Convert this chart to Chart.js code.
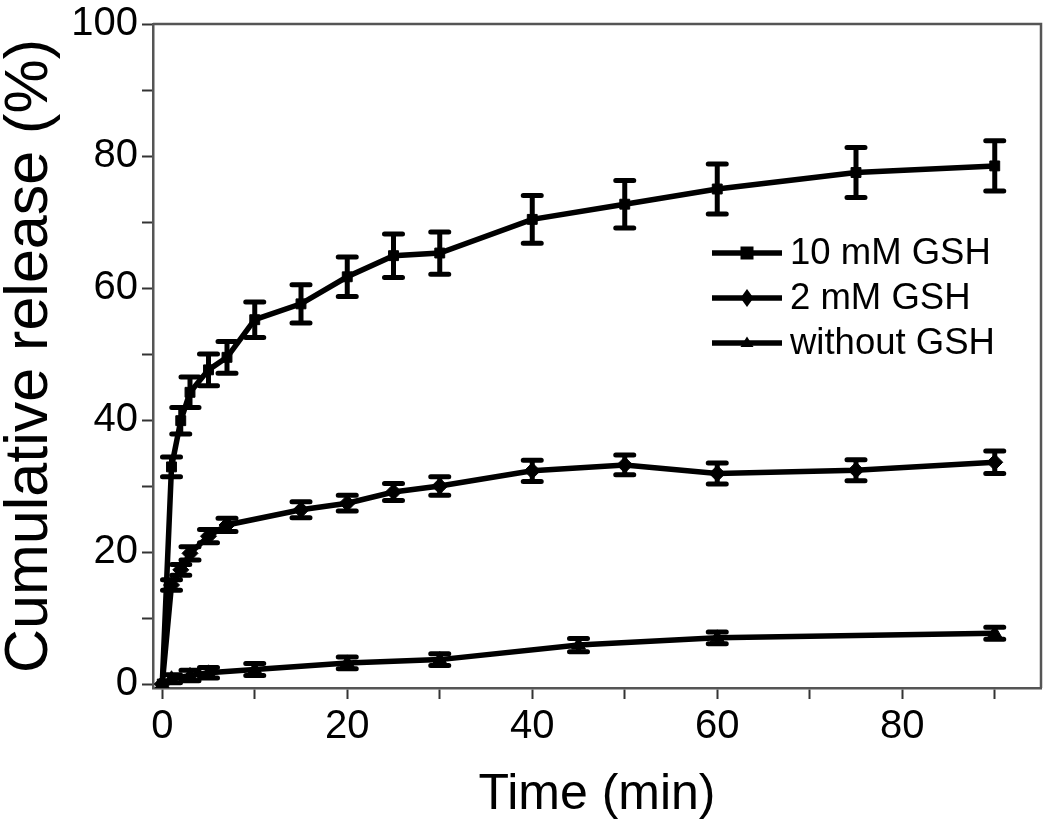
<!DOCTYPE html>
<html>
<head>
<meta charset="utf-8">
<script src="https://cdn.jsdelivr.net/npm/chart.js"></script>
<style>
  html, body { margin: 0; padding: 0; background: #ffffff; }
  #wrap { width: 1050px; height: 833px; }
</style>
</head>
<body>
<div id="wrap"><canvas id="c" width="1050" height="833"></canvas></div>
<script>
// ---- data ----
const seriesNames = ['10 mM GSH', '2 mM GSH', 'without GSH'];

const time10 = [0, 1, 2, 3, 5, 7, 10, 15, 20, 25, 30, 40, 50, 60, 75, 90];
const release10 = [0, 32.9, 39.9, 44.2, 47.6, 49.5, 55.2, 57.6, 61.7, 64.9, 65.3, 70.4, 72.7, 75.0, 77.5, 78.5];
const error10 = [0, 1.5, 2.0, 2.3, 2.4, 2.4, 2.7, 2.9, 3.0, 3.3, 3.2, 3.6, 3.6, 3.8, 3.8, 3.8];

const time2 = [0, 1, 2, 3, 5, 7, 15, 20, 25, 30, 40, 50, 60, 75, 90];
const release2 = [0, 15.0, 17.3, 19.8, 22.4, 24.1, 26.4, 27.4, 29.1, 30.0, 32.3, 33.2, 31.9, 32.4, 33.6];
const error2 = [0, 0.8, 0.8, 1.0, 1.0, 1.0, 1.2, 1.2, 1.3, 1.4, 1.6, 1.5, 1.6, 1.6, 1.7];

const time0 = [0, 1, 3, 5, 10, 20, 30, 45, 60, 90];
const release0 = [0, 0.8, 1.3, 1.7, 2.2, 3.2, 3.7, 5.9, 7.0, 7.7];
const error0 = [0, 0.6, 0.8, 0.8, 0.9, 0.9, 0.9, 1.0, 0.9, 0.9];

const xTickValues = [0, 10, 20, 30, 40, 50, 60, 70, 80, 90];
const yTickValues = [0, 10, 20, 30, 40, 50, 60, 70, 80, 90, 100];

// ---- build datasets ----
function pts(xs, ys) { return xs.map((x, i) => ({ x: x, y: ys[i] })); }
const markerStyles = ['rect', 'rectRot', 'triangle'];
const markerRadius = [7, 8, 8];
const errors = [error10, error2, error0];

const datasets = [
  { label: seriesNames[0], data: pts(time10, release10) },
  { label: seriesNames[1], data: pts(time2, release2) },
  { label: seriesNames[2], data: pts(time0, release0) }
].map((d, i) => Object.assign(d, {
  showLine: true,
  borderColor: '#000',
  backgroundColor: '#000',
  borderWidth: 5.5,
  pointStyle: markerStyles[i],
  pointRadius: markerRadius[i],
  pointHoverRadius: markerRadius[i],
  pointBackgroundColor: '#000',
  pointBorderColor: '#000',
  pointBorderWidth: 1,
  tension: 0,
  errors: errors[i]
}));

const FONT = '"Liberation Sans", Arial, sans-serif';

// error bars drawn through the chart's scales
const errorBarPlugin = {
  id: 'errorBars',
  beforeDatasetsDraw(chart) {
    const ctx = chart.ctx;
    const xs = chart.scales.x, ys = chart.scales.y;
    ctx.save();
    ctx.strokeStyle = '#000';
    ctx.lineWidth = 5;
    ctx.lineCap = 'round';
    chart.data.datasets.forEach(ds => {
      ds.data.forEach((p, i) => {
        const e = ds.errors[i];
        if (!e) return;
        const px = xs.getPixelForValue(p.x);
        const top = ys.getPixelForValue(p.y + e);
        const bot = ys.getPixelForValue(p.y - e);
        const cap = 9;
        ctx.beginPath();
        ctx.moveTo(px, top); ctx.lineTo(px, bot);
        ctx.moveTo(px - cap, top); ctx.lineTo(px + cap, top);
        ctx.moveTo(px - cap, bot); ctx.lineTo(px + cap, bot);
        ctx.stroke();
      });
    });
    ctx.restore();
  }
};

// frame (top and right sides of the box)
const framePlugin = {
  id: 'frame',
  afterDraw(chart) {
    const { ctx, chartArea: a } = chart;
    ctx.save();
    ctx.strokeStyle = '#555';
    ctx.lineWidth = 2.5;
    ctx.beginPath();
    ctx.moveTo(a.left, a.top);
    ctx.lineTo(a.right, a.top);
    ctx.lineTo(a.right, a.bottom);
    ctx.stroke();
    ctx.restore();
  }
};

// legend inside plot area
function drawMarker(ctx, style, x, y, r) {
  ctx.beginPath();
  if (style === 'rect') {
    ctx.rect(x - r, y - r, 2 * r, 2 * r);
  } else if (style === 'rectRot') {
    ctx.moveTo(x, y - r * 1.4); ctx.lineTo(x + r, y); ctx.lineTo(x, y + r * 1.4); ctx.lineTo(x - r, y);
    ctx.closePath();
  } else {
    ctx.moveTo(x, y - r); ctx.lineTo(x + r, y + r * 0.6); ctx.lineTo(x - r, y + r * 0.6);
    ctx.closePath();
  }
  ctx.fill();
}
const legendPlugin = {
  id: 'insideLegend',
  afterDraw(chart, args, opts) {
    const { ctx } = chart;
    ctx.save();
    ctx.font = opts.fontSize + 'px ' + FONT;
    ctx.textBaseline = 'middle';
    ctx.fillStyle = '#000';
    ctx.strokeStyle = '#000';
    chart.data.datasets.forEach((ds, i) => {
      const y = opts.y + i * opts.rowGap;
      ctx.lineWidth = 5.5;
      ctx.beginPath();
      ctx.moveTo(opts.x, y); ctx.lineTo(opts.x + opts.lineLen, y);
      ctx.stroke();
      drawMarker(ctx, ds.pointStyle, opts.x + opts.lineLen / 2, y, 6.5);
      ctx.fillText(ds.label, opts.x + opts.lineLen + opts.textGap, y + 1);
    });
    ctx.restore();
  }
};

new Chart(document.getElementById('c'), {
  type: 'scatter',
  data: { datasets: datasets },
  plugins: [errorBarPlugin, framePlugin, legendPlugin],
  options: {
    responsive: false,
    animation: false,
    layout: { padding: { top: 23, right: 1, left: 0, bottom: 0 } },
    plugins: {
      legend: { display: false },
      tooltip: { enabled: false },
      insideLegend: { x: 712, y: 253, rowGap: 45, lineLen: 70, textGap: 8, fontSize: 36.5 }
    },
    scales: {
      x: {
        type: 'linear',
        min: -1,
        max: 95,
        afterBuildTicks: s => { s.ticks = xTickValues.map(v => ({ value: v })); },
        afterFit: s => { s.height = 145; },
        grid: { drawOnChartArea: false, drawTicks: true, tickLength: 11, tickWidth: 2, tickColor: '#333' },
        border: { display: true, color: '#555', width: 2.5 },
        ticks: {
          color: '#000',
          padding: 4,
          maxRotation: 0,
          font: { family: FONT, size: 40, lineHeight: 1.2 },
          callback: v => (v % 20 === 0 ? String(v) : '')
        },
        title: {
          display: true,
          text: 'Time (min)',
          color: '#000',
          font: { family: FONT, size: 50, lineHeight: 1.2 },
          padding: { top: 0, bottom: 8 }
        }
      },
      y: {
        type: 'linear',
        min: -0.6,
        max: 100,
        afterBuildTicks: s => { s.ticks = yTickValues.map(v => ({ value: v })); },
        afterFit: s => { s.width = 153; },
        grid: { drawOnChartArea: false, drawTicks: true, tickLength: 11, tickWidth: 2, tickColor: '#333' },
        border: { display: true, color: '#555', width: 2.5 },
        ticks: {
          color: '#000',
          padding: 4,
          font: { family: FONT, size: 40, lineHeight: 1 },
          callback: v => (v % 20 === 0 ? String(v) : '')
        },
        title: {
          display: true,
          text: 'Cumulative release (%)',
          color: '#000',
          font: { family: FONT, size: 61, lineHeight: 1 },
          padding: { top: 0, bottom: 0 }
        }
      }
    }
  }
});
</script>
</body>
</html>
